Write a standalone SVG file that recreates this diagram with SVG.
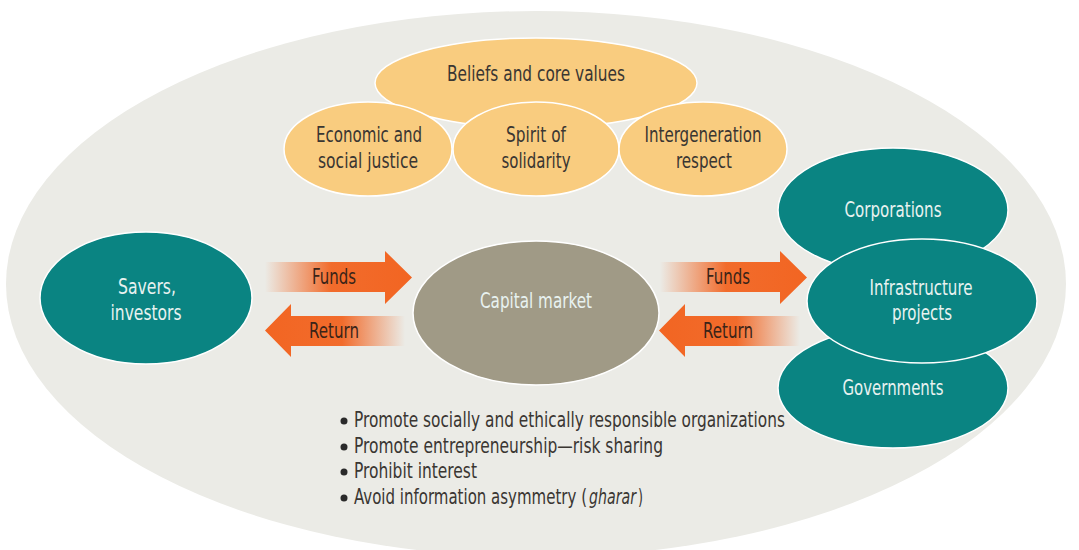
<svg xmlns="http://www.w3.org/2000/svg" width="1079" height="550" viewBox="0 0 1079 550">
<defs>
<style>
text{font-family:"DejaVu Sans Condensed","Liberation Sans",sans-serif;font-stretch:condensed;font-size:20.5px;text-anchor:middle}
.peach{fill:#f9cc7f;stroke:#ffffff;stroke-width:1.5}
.teal{fill:#0a8482;stroke:#ffffff;stroke-width:1.5}
.cap{fill:#a09a86;stroke:#ffffff;stroke-width:1.5}
.dk{fill:#3a3632}
.wt{fill:#e8f2f0}
.ar{fill:#3b2418}
.bl{fill:#3a3632;text-anchor:start}
</style>
<linearGradient id="gR1" gradientUnits="userSpaceOnUse" x1="265" y1="0" x2="412" y2="0">
<stop offset="0" stop-color="#f26522" stop-opacity="0"/>
<stop offset="0.45" stop-color="#f26522" stop-opacity="0.95"/>
<stop offset="1" stop-color="#f26522"/>
</linearGradient>
<linearGradient id="gL1" gradientUnits="userSpaceOnUse" x1="405" y1="0" x2="265" y2="0">
<stop offset="0" stop-color="#f26522" stop-opacity="0"/>
<stop offset="0.45" stop-color="#f26522" stop-opacity="0.95"/>
<stop offset="1" stop-color="#f26522"/>
</linearGradient>
<linearGradient id="gR2" gradientUnits="userSpaceOnUse" x1="660" y1="0" x2="807" y2="0">
<stop offset="0" stop-color="#f26522" stop-opacity="0"/>
<stop offset="0.45" stop-color="#f26522" stop-opacity="0.95"/>
<stop offset="1" stop-color="#f26522"/>
</linearGradient>
<linearGradient id="gL2" gradientUnits="userSpaceOnUse" x1="800" y1="0" x2="659" y2="0">
<stop offset="0" stop-color="#f26522" stop-opacity="0"/>
<stop offset="0.45" stop-color="#f26522" stop-opacity="0.95"/>
<stop offset="1" stop-color="#f26522"/>
</linearGradient>
</defs>
<rect width="1079" height="550" fill="#ffffff"/>
<ellipse id="background" cx="536" cy="284" rx="530" ry="273" fill="#ebebe6"/>

<g id="beliefs"><ellipse class="peach" cx="536" cy="83" rx="161" ry="45"/><text class="dk" x="536" y="81" textLength="178" lengthAdjust="spacingAndGlyphs">Beliefs and core values</text></g>
<g id="economic"><ellipse class="peach" cx="368" cy="149" rx="84" ry="47"/><text class="dk" x="369" y="142" textLength="106" lengthAdjust="spacingAndGlyphs">Economic and</text><text class="dk" x="368" y="168" textLength="100" lengthAdjust="spacingAndGlyphs">social justice</text></g>
<g id="spirit"><ellipse class="peach" cx="536" cy="149" rx="83" ry="47"/><text class="dk" x="536" y="142" textLength="60" lengthAdjust="spacingAndGlyphs">Spirit of</text><text class="dk" x="536" y="168" textLength="69" lengthAdjust="spacingAndGlyphs">solidarity</text></g>
<g id="intergeneration"><ellipse class="peach" cx="703" cy="149" rx="84" ry="47"/><text class="dk" x="703" y="142" textLength="117" lengthAdjust="spacingAndGlyphs">Intergeneration</text><text class="dk" x="704" y="168" textLength="56" lengthAdjust="spacingAndGlyphs">respect</text></g>

<g id="savers"><ellipse class="teal" cx="146" cy="298" rx="106" ry="66"/><text class="wt" x="147" y="294" textLength="58" lengthAdjust="spacingAndGlyphs">Savers,</text><text class="wt" x="146" y="320" textLength="71" lengthAdjust="spacingAndGlyphs">investors</text></g>
<g id="capital"><ellipse class="cap" cx="536" cy="313" rx="123" ry="72"/><text class="wt" x="536" y="308" textLength="112" lengthAdjust="spacingAndGlyphs">Capital market</text></g>
<g id="corporations"><ellipse class="teal" cx="893" cy="210" rx="115" ry="62"/><text class="wt" x="893" y="217" textLength="97" lengthAdjust="spacingAndGlyphs">Corporations</text></g>
<g id="governments"><ellipse class="teal" cx="893" cy="388" rx="115" ry="60"/><text class="wt" x="893" y="395" textLength="101" lengthAdjust="spacingAndGlyphs">Governments</text></g>
<g id="infrastructure"><ellipse class="teal" cx="922" cy="301" rx="115" ry="62"/><text class="wt" x="921" y="295" textLength="103" lengthAdjust="spacingAndGlyphs">Infrastructure</text><text class="wt" x="922" y="320" textLength="60" lengthAdjust="spacingAndGlyphs">projects</text></g>

<g id="connectors">
<path d="M265 262 H385 V251 L412 277.5 L385 304 V292 H265 Z" fill="url(#gR1)"/>
<path d="M405 316 H291 V304 L265 330.5 L291 357 V346 H405 Z" fill="url(#gL1)"/>
<path d="M660 262 H780 V251 L807 277.5 L780 304 V292 H660 Z" fill="url(#gR2)"/>
<path d="M800 316 H685 V304 L659 330.5 L685 357 V346 H800 Z" fill="url(#gL2)"/>
<text class="ar" x="334" y="284" textLength="44" lengthAdjust="spacingAndGlyphs">Funds</text>
<text class="ar" x="334" y="338" textLength="50" lengthAdjust="spacingAndGlyphs">Return</text>
<text class="ar" x="728" y="284" textLength="44" lengthAdjust="spacingAndGlyphs">Funds</text>
<text class="ar" x="728" y="338" textLength="50" lengthAdjust="spacingAndGlyphs">Return</text>
</g>

<g id="principles">
<circle cx="344" cy="421" r="3.5" fill="#2a2a2a"/>
<circle cx="344" cy="447" r="3.5" fill="#2a2a2a"/>
<circle cx="344" cy="472" r="3.5" fill="#2a2a2a"/>
<circle cx="344" cy="498" r="3.5" fill="#2a2a2a"/>
<text class="bl" x="354" y="427" textLength="431" lengthAdjust="spacingAndGlyphs">Promote socially and ethically responsible organizations</text>
<text class="bl" x="354" y="453" textLength="309" lengthAdjust="spacingAndGlyphs">Promote entrepreneurship—risk sharing</text>
<text class="bl" x="354" y="478" textLength="123" lengthAdjust="spacingAndGlyphs">Prohibit interest</text>
<text class="bl" x="354" y="504" textLength="233" lengthAdjust="spacingAndGlyphs">Avoid information asymmetry (</text>
<text class="bl" x="589" y="504" font-style="italic" textLength="47" lengthAdjust="spacingAndGlyphs">gharar</text>
<text class="bl" x="638" y="504" textLength="5" lengthAdjust="spacingAndGlyphs">)</text>
</g>
</svg>
